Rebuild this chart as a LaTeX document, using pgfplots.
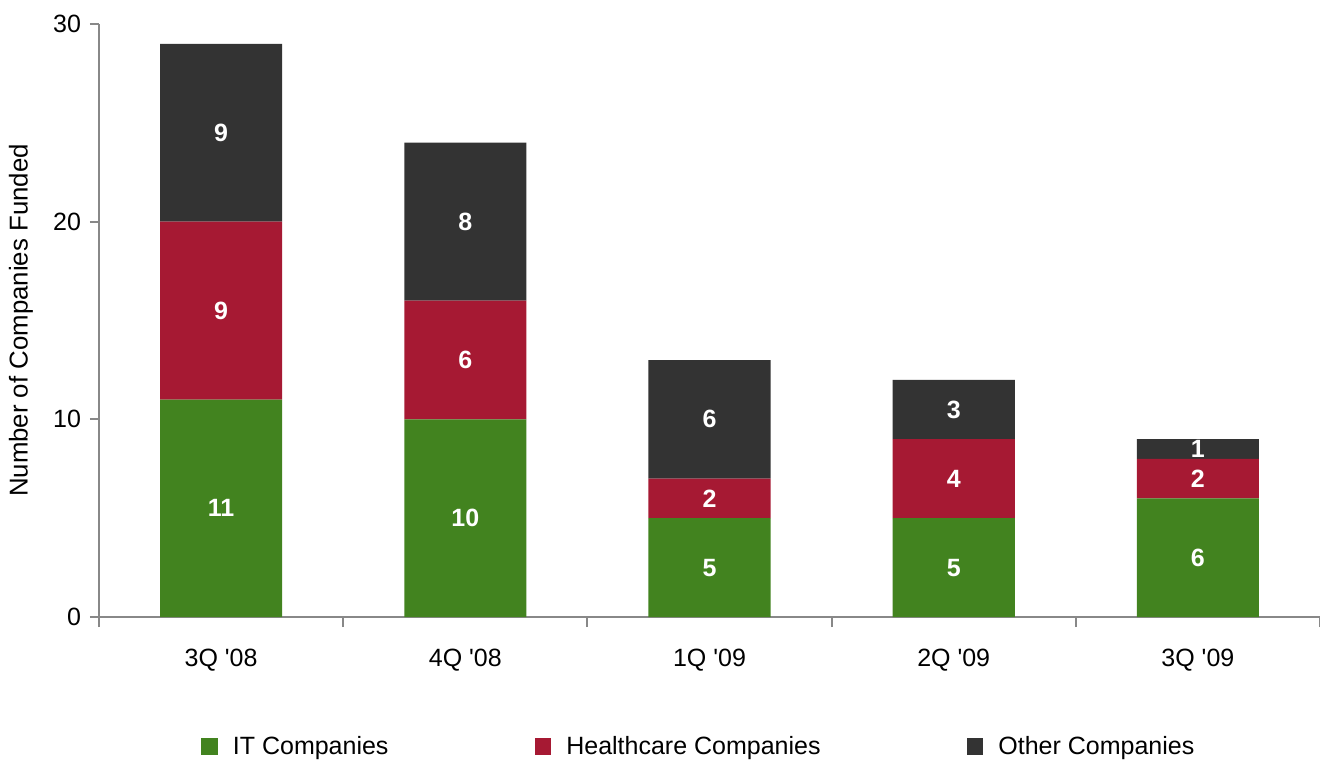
\documentclass[border=0pt]{standalone}
\usepackage{pgfplots}
\pgfplotsset{compat=1.18}
\usepackage{fontspec}
\setmainfont{Liberation Sans}
\definecolor{itgreen}{RGB}{66,131,31}
\definecolor{hcred}{RGB}{166,25,51}
\definecolor{othdark}{RGB}{51,51,51}
\definecolor{axgray}{RGB}{136,136,136}
\begin{document}
\begin{tikzpicture}
\pgfplotsset{
  base/.style={
    scale only axis, width=610.5pt, height=296.5pt,
    xmin=-0.5, xmax=4.5, ymin=0, ymax=30,
    at={(0pt,0pt)}, anchor=south west,
  }
}
\begin{axis}[base,
  ybar stacked, bar width=0.5,
  axis x line=bottom, axis y line=left,
  axis line style={axgray, line width=1pt, -},
  xtick={0,1,2,3,4},
  xticklabels={3Q \textquotesingle08,4Q \textquotesingle08,1Q \textquotesingle09,2Q \textquotesingle09,3Q \textquotesingle09},
  minor xtick={-0.5,0.5,1.5,2.5,3.5,4.5},
  ytick={0,10,20,30},
  tick align=outside,
  major tick length=4.5pt, minor tick length=5pt,
  major x tick style={draw=none},
  minor x tick style={axgray, line width=1pt},
  major y tick style={axgray, line width=1pt},
  tick label style={font=\fontsize{12.5}{14}\selectfont},
  xticklabel style={yshift=-8pt},
  yticklabel style={xshift=-1pt},
  /pgf/number format/assume math mode=true,
  ylabel={Number of Companies Funded},
  ylabel style={font=\fontsize{12.9}{14}\selectfont, at={(axis description cs:-0.064,0.5)}, anchor=center},
  legend columns=3,
  legend style={draw=none, at={(axis description cs:0.492,-0.219)}, anchor=center,
    font=\fontsize{12.5}{14}\selectfont,
    /tikz/every odd column/.append style={column sep=5.5pt},
    /tikz/every even column/.append style={column sep=71pt}},
  legend image code/.code={\fill[#1] (0pt,-4.2pt) rectangle (8.4pt,4.2pt);},
]
\addplot[fill=itgreen, draw=none] coordinates {(0,11) (1,10) (2,5) (3,5) (4,6)};
\addplot[fill=hcred, draw=none] coordinates {(0,9) (1,6) (2,2) (3,4) (4,2)};
\addplot[fill=othdark, draw=none] coordinates {(0,9) (1,8) (2,6) (3,3) (4,1)};
\legend{IT Companies, Healthcare Companies, Other Companies}
\end{axis}
\begin{axis}[base, hide axis,
  nodes near coords, point meta=explicit symbolic,
  every node near coord/.append style={anchor=center, font=\fontsize{12.5}{14}\selectfont\bfseries, text=white},
]
\addplot[draw=none, mark=none] table[meta=label] {
x y label
0 5.5 11
1 5 10
2 2.5 5
3 2.5 5
4 3 6
0 15.5 9
1 13 6
2 6 2
3 7 4
4 7 2
0 24.5 9
1 20 8
2 10 6
3 10.5 3
4 8.5 1
};
\end{axis}
\pgfresetboundingbox
\path (-49.5pt,-72pt) rectangle (610.5pt,308.5pt);
\end{tikzpicture}
\end{document}
